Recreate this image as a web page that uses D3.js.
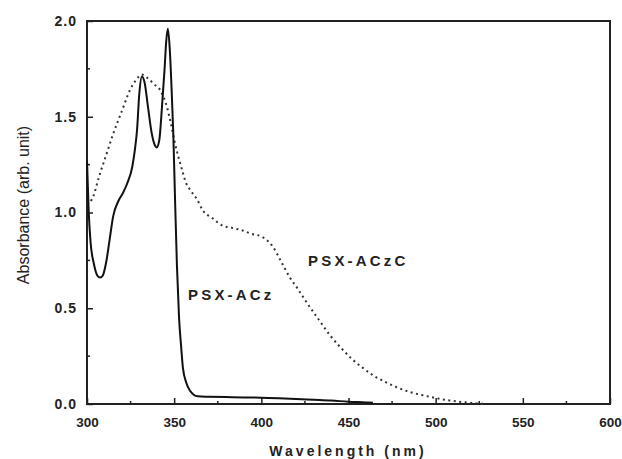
<!DOCTYPE html>
<html>
<head>
<meta charset="utf-8">
<script src="https://cdn.jsdelivr.net/npm/d3@7"></script>
<style>
  body { margin: 0; background: #fff; }
  text { font-family: "Liberation Sans", Arial, sans-serif; fill: #222; }
</style>
</head>
<body>
<svg id="chart"></svg>
<script>
// PSX-ACz (solid line): wavelength (nm), absorbance
var aczWave = [300, 301, 302, 304, 306, 307.5, 309, 311, 313, 315, 318, 320.5, 323, 326, 327.5, 328.7, 330, 331.5, 333, 335, 337, 339, 340, 341.5, 343, 344.5, 345.5, 346.4, 347.5, 348.5, 349.5, 350.5, 351.6, 352.8, 354, 355, 357, 359, 361, 363.6, 370, 380, 390, 400, 410, 420, 430, 440, 450, 460, 464];
var aczAbs  = [1.27, 1.0, 0.85, 0.73, 0.67, 0.66, 0.67, 0.74, 0.86, 0.98, 1.06, 1.1, 1.15, 1.24, 1.33, 1.43, 1.62, 1.71, 1.68, 1.55, 1.42, 1.35, 1.34, 1.38, 1.55, 1.75, 1.9, 1.96, 1.85, 1.65, 1.41, 1.07, 0.72, 0.45, 0.3, 0.19, 0.11, 0.07, 0.05, 0.04, 0.038, 0.036, 0.034, 0.033, 0.03, 0.026, 0.022, 0.018, 0.012, 0.008, 0.006];

// PSX-ACzC (dotted line)
var acczcWave = [300, 303.4, 307, 311, 315, 320, 324.7, 328, 331.5, 335, 338.5, 341.9, 345.9, 348, 350.5, 354, 357, 359, 363, 366.5, 372, 378, 383, 387.7, 394, 401, 406.7, 411, 416.4, 421, 426, 433, 439.3, 446, 452, 458, 464, 470, 477, 485, 493, 500.7, 508, 515.6, 522, 529];
var acczcAbs  = [1.04, 1.08, 1.19, 1.3, 1.41, 1.53, 1.64, 1.69, 1.72, 1.7, 1.67, 1.64, 1.55, 1.47, 1.36, 1.24, 1.15, 1.12, 1.07, 1.01, 0.97, 0.93, 0.92, 0.91, 0.89, 0.87, 0.82, 0.75, 0.66, 0.6, 0.53, 0.44, 0.36, 0.29, 0.235, 0.19, 0.15, 0.12, 0.09, 0.063, 0.045, 0.03, 0.018, 0.01, 0.004, 0];

var xTicks = [300, 350, 400, 450, 500, 550, 600];
var xMinor = [325, 375, 425, 475, 525, 575];
var yTicks = [0, 0.5, 1.0, 1.5, 2.0];
var yMinor = [0.25, 0.75, 1.25, 1.75];

var width = 622,
    height = 459;

var margin = {left: 87, right: 12, top: 21, bottom: 55};

var svg = d3.select("#chart")
    .attr("width", width)
    .attr("height", height);

var x = d3.scaleLinear()
    .domain([300, 600])
    .range([margin.left, width - margin.right]);

var y = d3.scaleLinear()
    .domain([0, 2])
    .range([height - margin.bottom, margin.top]);

// frame
svg.append("rect")
    .attr("x", x(300))
    .attr("y", y(2))
    .attr("width", x(600) - x(300))
    .attr("height", y(0) - y(2))
    .attr("fill", "none")
    .attr("stroke", "#222")
    .attr("stroke-width", 2);

// x axis
var xAxis = svg.append("g")
    .attr("transform", "translate(0," + y(0) + ")")
    .call(d3.axisBottom(x).tickValues(xTicks).tickSize(-6).tickPadding(13).tickFormat(d3.format("d")));
xAxis.select(".domain").remove();
xAxis.selectAll(".tick line").attr("stroke", "#222").attr("stroke-width", 1.5);
xAxis.selectAll(".tick text")
    .style("font-size", "13.5px")
    .style("font-weight", "bold")
    .attr("fill", "#333");

svg.append("g").selectAll("line")
    .data(xMinor)
    .enter().append("line")
    .attr("x1", function(d) { return x(d); })
    .attr("x2", function(d) { return x(d); })
    .attr("y1", y(0))
    .attr("y2", y(0) - 3)
    .attr("stroke", "#222")
    .attr("stroke-width", 1.5);

// y axis
var yAxis = svg.append("g")
    .attr("transform", "translate(" + x(300) + ",0)")
    .call(d3.axisLeft(y).tickValues(yTicks).tickSize(-6).tickPadding(10).tickFormat(d3.format(".1f")));
yAxis.select(".domain").remove();
yAxis.selectAll(".tick line").attr("stroke", "#222").attr("stroke-width", 1.5);
yAxis.selectAll(".tick text")
    .style("font-size", "14px")
    .style("font-weight", "bold")
    .style("letter-spacing", "1px")
    .attr("fill", "#333");

svg.append("g").selectAll("line")
    .data(yMinor)
    .enter().append("line")
    .attr("x1", x(300))
    .attr("x2", x(300) + 3)
    .attr("y1", function(d) { return y(d); })
    .attr("y2", function(d) { return y(d); })
    .attr("stroke", "#222")
    .attr("stroke-width", 1.5);

// curves
var line = d3.line()
    .x(function(d) { return x(d[0]); })
    .y(function(d) { return y(d[1]); })
    .curve(d3.curveMonotoneX);

svg.append("path")
    .datum(d3.zip(acczcWave, acczcAbs))
    .attr("d", line)
    .attr("fill", "none")
    .attr("stroke", "#333")
    .attr("stroke-width", 2)
    .attr("stroke-dasharray", "2,3.5");

svg.append("path")
    .datum(d3.zip(aczWave, aczAbs))
    .attr("d", line)
    .attr("fill", "none")
    .attr("stroke", "#111")
    .attr("stroke-width", 2);

// labels
svg.append("text")
    .attr("x", 188)
    .attr("y", 300)
    .style("font-size", "15px")
    .style("font-weight", "bold")
    .style("letter-spacing", "3.2px")
    .attr("fill", "#333")
    .text("PSX-ACz");

svg.append("text")
    .attr("x", 308)
    .attr("y", 266)
    .style("font-size", "15px")
    .style("font-weight", "bold")
    .style("letter-spacing", "3.2px")
    .attr("fill", "#333")
    .text("PSX-ACzC");

svg.append("text")
    .attr("x", 348)
    .attr("y", 456)
    .attr("text-anchor", "middle")
    .style("font-size", "14px")
    .style("font-weight", "bold")
    .style("letter-spacing", "3px")
    .attr("fill", "#333")
    .text("Wavelength (nm)");

svg.append("text")
    .attr("transform", "translate(29,205) rotate(-90)")
    .attr("text-anchor", "middle")
    .style("font-size", "16px")
    .attr("fill", "#333")
    .text("Absorbance (arb. unit)");
</script>
</body>
</html>
